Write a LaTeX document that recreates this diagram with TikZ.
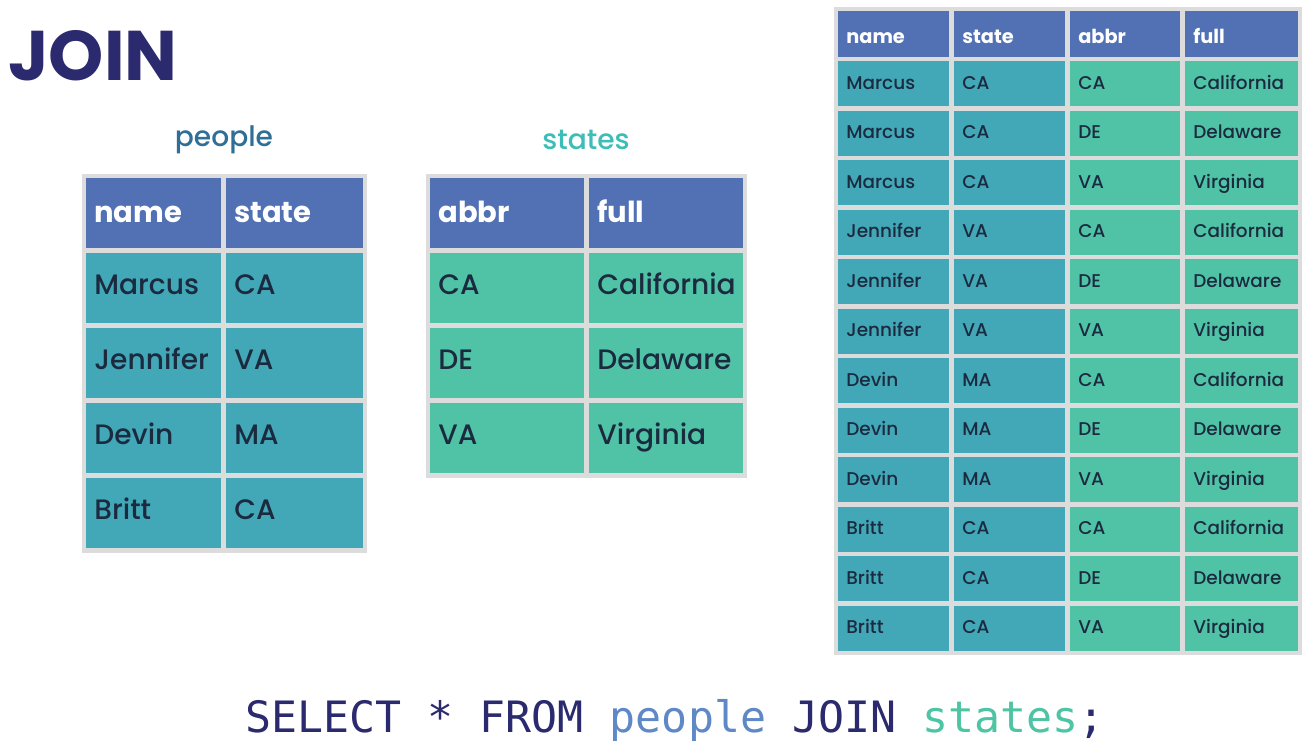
\documentclass[tikz,border=0pt]{standalone}
\usepackage{fontspec}
\setmainfont{Poppins}
\setmonofont{DejaVu Sans Mono}
\newfontfamily\cellfont{Poppins Medium}
\usepackage{tikz}
\usetikzlibrary{positioning}

\definecolor{joinnavy}{HTML}{2B2A6E}
\definecolor{hdrblue}{HTML}{5171B4}
\definecolor{peopleteal}{HTML}{42A7B7}
\definecolor{stategreen}{HTML}{50C3A7}
\definecolor{gridgray}{HTML}{DCDCDC}
\definecolor{celltext}{HTML}{1B2A3F}
\definecolor{peoplelbl}{HTML}{2E6E97}
\definecolor{stateslbl}{HTML}{3CBDB8}
\definecolor{sqlblue}{HTML}{5E88C6}
\definecolor{sqlgreen}{HTML}{4DC4A3}

\begin{document}
\begin{tikzpicture}[
        x=0.02cm, y=-0.02cm,
        cell/.style={rectangle, anchor=north west, inner xsep=0.16cm, inner ysep=0pt, align=left, text=celltext,
            text height=1.6ex, text depth=0.45ex},
        bigcell/.style={cell, text width=#1, minimum height=1.4cm, font=\cellfont\fontsize{16}{18}\selectfont,
            text height=1.8ex},
        smallcell/.style={cell, text width=#1, minimum height=0.9cm, font=\cellfont\fontsize{10.5}{12}\selectfont},
        hdr/.style={fill=hdrblue, text=white, text height=2.3ex},
        pcell/.style={fill=peopleteal},
        scell/.style={fill=stategreen},
        label/.style={font=\cellfont\fontsize{16}{18}\selectfont}
    ]
    \useasboundingbox[fill=white] (0,0) rectangle (1308,748);

    % title
    \node[anchor=base west, inner sep=0pt, text=joinnavy, font=\fontsize{40}{44}\bfseries\selectfont] (title) at (8,80) {JOIN};

    % people table
    \node[label, text=peoplelbl] (people-lbl) at (224,140) {people};
    \fill[gridgray] (82,174) rectangle (367,553);
    \node[bigcell=2.38cm, hdr, font=\fontsize{16.5}{18}\bfseries\selectfont] (p-h1) at (86,178) {name};
    \node[bigcell=2.42cm, hdr, font=\fontsize{16.5}{18}\bfseries\selectfont] (p-h2) at (226,178) {state};
    \foreach \n/\s [count=\i] in {Marcus/CA, Jennifer/VA, Devin/MA, Britt/CA}{
        \node[bigcell=2.38cm, pcell] (p-\i a) at (86,178+75*\i) {\n};
        \node[bigcell=2.42cm, pcell] (p-\i b) at (226,178+75*\i) {\s};
    }

    % states table
    \node[label, text=stateslbl] (states-lbl) at (586,140) {states};
    \fill[gridgray] (426,174) rectangle (747,478);
    \node[bigcell=2.76cm, hdr, font=\fontsize{16.5}{18}\bfseries\selectfont] (s-h1) at (430,178) {abbr};
    \node[bigcell=2.76cm, hdr, font=\fontsize{16.5}{18}\bfseries\selectfont] (s-h2) at (589,178) {full};
    \foreach \a/\f [count=\i] in {CA/California, DE/Delaware, VA/Virginia}{
        \node[bigcell=2.76cm, scell] (s-\i a) at (430,178+75*\i) {\a};
        \node[bigcell=2.76cm, scell] (s-\i b) at (589,178+75*\i) {\f};
    }

    % joined result
    \fill[gridgray] (834,7) rectangle (1302,655);
    \foreach \h/\x/\w [count=\c] in {name/838/1.90cm, state/954/1.90cm, abbr/1070/1.88cm, full/1185/1.94cm}
        \node[smallcell=\w, hdr, minimum height=0.92cm, font=\fontsize{11}{12}\bfseries\selectfont] (r-h\c) at (\x,11) {\h};
    \foreach \n/\s [count=\i from 0] in {Marcus/CA, Jennifer/VA, Devin/MA, Britt/CA}{
        \foreach \a/\f [count=\j] in {CA/California, DE/Delaware, VA/Virginia}{
            \pgfmathtruncatemacro{\k}{3*\i+\j}
            \node[smallcell=1.90cm, pcell] (r-\k a) at (838,61+49.5*\k-49.5) {\n};
            \node[smallcell=1.90cm, pcell] (r-\k b) at (954,61+49.5*\k-49.5) {\s};
            \node[smallcell=1.88cm, scell] (r-\k c) at (1070,61+49.5*\k-49.5) {\a};
            \node[smallcell=1.94cm, scell] (r-\k d) at (1185,61+49.5*\k-49.5) {\f};
        }
    }

    % query
    \node[text=joinnavy, font=\fontsize{24.6}{28}\ttfamily\selectfont] (sql) at (675,720)
        {SELECT * FROM \textcolor{sqlblue}{people} JOIN \textcolor{sqlgreen}{states};};
\end{tikzpicture}
\end{document}
